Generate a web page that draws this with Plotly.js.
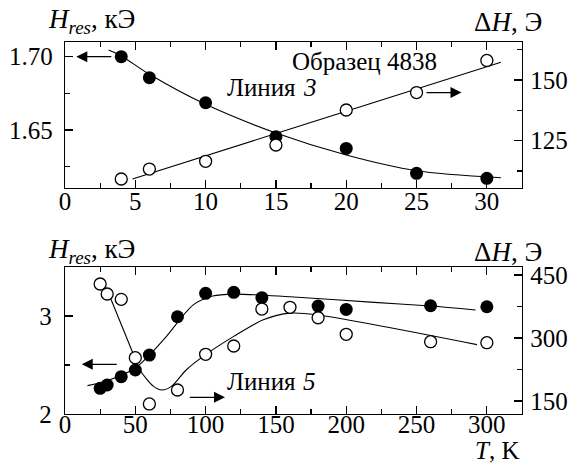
<!DOCTYPE html>
<html>
<head>
<meta charset="utf-8">
<script src="https://cdn.plot.ly/plotly-3.0.1.min.js"></script>
<style>
  html, body { margin: 0; padding: 0; background: #fff; }
  #chart { width: 580px; height: 466px; }
</style>
</head>
<body>
<div id="chart"></div>
<script>
// Line 3 (sample 4838), low temperatures
const topT = [4, 6, 10, 15, 20, 25, 30];
const topHres = [1.700, 1.6857, 1.6686, 1.6455, 1.6375, 1.6205, 1.6171];
const topDH = [109.2, 113.3, 116.5, 123.2, 137.6, 144.8, 158.0];
// guide curves for line 3
const topHresFitT = [3.1, 4, 6, 10, 15, 20, 25, 31];
const topHresFit = [1.7045, 1.7005, 1.688, 1.6675, 1.648, 1.633, 1.6223, 1.6175];
const topDHFitT = [4.8, 15, 31];
const topDHFit = [109.2, 127.9, 157.3];

// Line 5, wide temperature range
const botTFilled = [25, 30, 40, 50, 60, 80, 100, 120, 140, 180, 200, 260, 300];
const botHres = [2.262, 2.296, 2.381, 2.449, 2.602, 2.993, 3.232, 3.242, 3.187, 3.102, 3.068, 3.105, 3.095];
const botTOpen = [25, 30, 40, 50, 60, 80, 100, 120, 140, 160, 180, 200, 260, 300];
const botDH = [428.6, 404.8, 392.1, 253.1, 142.9, 176.2, 261.2, 281, 369, 373.1, 348.3, 308.8, 291.2, 288.8];
// guide curves for line 5
const botHresFitT = [16, 30, 50, 60, 72, 91, 105, 120, 160, 220, 260, 292];
const botHresFit = [2.29, 2.34, 2.47, 2.60, 2.789, 3.112, 3.204, 3.224, 3.197, 3.14, 3.102, 3.061];
const botDHFitT = [32.4, 47.4, 53.3, 62.8, 68.8, 75.9, 86.5, 100, 120, 141, 160, 179, 293];
const botDHFit = [394.8, 271.4, 223.8, 185.4, 176, 185.4, 225, 260.5, 303.9, 343.4, 359.3, 355.3, 284.2];

const FONT = 'Liberation Serif, Times New Roman, serif';
const FS = 25;       // tick labels and in-plot text
const CAP_FS = 27;   // axis captions
const filledMarker = { symbol: 'circle', size: 13, color: '#000' };
const openMarker = { symbol: 'circle', size: 12, color: '#fff', line: { color: '#000', width: 1.3 } };
const fitLine = { color: '#000', width: 1.1, shape: 'spline', smoothing: 0.8 };

const traces = [
  { x: topHresFitT, y: topHresFit, xaxis: 'x', yaxis: 'y', mode: 'lines', line: fitLine, hoverinfo: 'skip' },
  { x: topT, y: topHres, xaxis: 'x', yaxis: 'y', mode: 'markers', marker: filledMarker },
  { x: topDHFitT, y: topDHFit, xaxis: 'x', yaxis: 'y2', mode: 'lines', line: fitLine, hoverinfo: 'skip' },
  { x: topT, y: topDH, xaxis: 'x', yaxis: 'y2', mode: 'markers', marker: openMarker },
  { x: botHresFitT, y: botHresFit, xaxis: 'x2', yaxis: 'y3', mode: 'lines', line: fitLine, hoverinfo: 'skip' },
  { x: botTFilled, y: botHres, xaxis: 'x2', yaxis: 'y3', mode: 'markers', marker: filledMarker },
  { x: botDHFitT, y: botDHFit, xaxis: 'x2', yaxis: 'y4', mode: 'lines', line: fitLine, hoverinfo: 'skip' },
  { x: botTOpen, y: botDH, xaxis: 'x2', yaxis: 'y4', mode: 'markers', marker: openMarker }
];

function minorTicks(extra) {
  return Object.assign({ ticks: 'inside', ticklen: 5, tickwidth: 1.2, tickcolor: '#000', showgrid: false }, extra);
}

function axisStyle(extra) {
  return Object.assign({
    showline: true, linecolor: '#000', linewidth: 1.3,
    ticks: 'inside', ticklen: 8, tickwidth: 1.2, tickcolor: '#000',
    showgrid: false, zeroline: false, fixedrange: true,
    tickfont: { family: FONT, size: FS, color: '#000' }
  }, extra);
}

const TOP_DOMAIN = [0.6075, 1];
const BOT_DOMAIN = [0, 0.395];

function arrow(xref, yref, x, y, ax, ay) {
  return { xref: xref, yref: yref, axref: xref, ayref: yref, x: x, y: y, ax: ax, ay: ay, text: '',
    showarrow: true, arrowhead: 2, arrowsize: 1.7, arrowwidth: 1.3, arrowcolor: '#000', standoff: 0, startstandoff: 0 };
}

function label(xref, yref, x, y, anchor, text, size) {
  return { xref: xref, yref: yref, x: x, y: y, xanchor: anchor, yanchor: 'middle', showarrow: false,
    text: text, font: { family: FONT, size: size || FS, color: '#000' } };
}

const layout = {
  width: 580, height: 466,
  margin: { l: 65, r: 58, t: 42, b: 52 },
  paper_bgcolor: '#fff', plot_bgcolor: 'rgba(0,0,0,0)',
  showlegend: false,
  font: { family: FONT, size: FS, color: '#000' },
  xaxis: axisStyle({ domain: [0, 1], anchor: 'y', range: [0, 32.5], tickvals: [0, 5, 10, 15, 20, 25, 30], mirror: 'ticks', ticklabelstandoff: -9, minor: minorTicks({ dtick: 2.5, tick0: 0 }) }),
  yaxis: axisStyle({ domain: TOP_DOMAIN, anchor: 'x', range: [1.6105, 1.710], tickvals: [1.65, 1.70], ticktext: ['1.65', '1.70'], ticklabelstandoff: 6, minor: minorTicks({ tickvals: [1.625, 1.675] }) }),
  yaxis2: axisStyle({ overlaying: 'y', side: 'right', anchor: 'x', range: [105.5, 165.6], tickvals: [125, 150], ticklabelstandoff: 2, minor: minorTicks({ tickvals: [112.5, 137.5, 162.5] }) }),
  xaxis2: axisStyle({ domain: [0, 1], anchor: 'y3', range: [0, 325], tickvals: [0, 50, 100, 150, 200, 250, 300], mirror: 'ticks', ticklabelstandoff: -12, minor: minorTicks({ dtick: 25, tick0: 0 }) }),
  yaxis3: axisStyle({ domain: BOT_DOMAIN, anchor: 'x2', range: [2.0, 3.5], tickvals: [2, 3], ticklabelstandoff: 7, minor: minorTicks({ tickvals: [2.5] }) }),
  yaxis4: axisStyle({ overlaying: 'y3', side: 'right', anchor: 'x2', range: [119, 469], tickvals: [150, 300, 450], ticklabelstandoff: 2, minor: minorTicks({ tickvals: [225, 375] }) }),
  annotations: [
    // axis captions
    label('paper', 'paper', 0.157, 1.057, 'right', '<i>H</i><sub><i>res</i></sub>, кЭ', CAP_FS),
    label('paper', 'paper', 1.048, 1.054, 'right', 'Δ<i>H</i>, Э', CAP_FS),
    label('paper', 'paper', 0.157, 0.439, 'right', '<i>H</i><sub><i>res</i></sub>, кЭ', CAP_FS),
    label('paper', 'paper', 1.048, 0.435, 'right', 'Δ<i>H</i>, Э', CAP_FS),
    label('paper', 'paper', 0.998, -0.0975, 'right', '<i>T</i>, K', FS),
    // in-plot labels
    label('x', 'y', 16.0, 1.697, 'left', 'Образец 4838'),
    label('x', 'y', 16.6, 1.6793, 'right', 'Линия'),
    label('x', 'y', 16.8, 1.6793, 'left', '<i>3</i>'),
    label('x2', 'y3', 166, 2.33, 'right', 'Линия'),
    label('x2', 'y3', 168, 2.33, 'left', '<i>5</i>'),
    // arrows pointing to the axis each series belongs to
    arrow('x', 'y', 0.8, 1.70, 3.4, 1.70),
    arrow('x', 'y2', 28.2, 144.8, 25.6, 144.8),
    arrow('x2', 'y3', 11.9, 2.507, 37.9, 2.507),
    arrow('x2', 'y4', 113.8, 158.8, 87.7, 158.8)
  ]
};

Plotly.newPlot('chart', traces, layout, { staticPlot: true, displayModeBar: false });
</script>
</body>
</html>
